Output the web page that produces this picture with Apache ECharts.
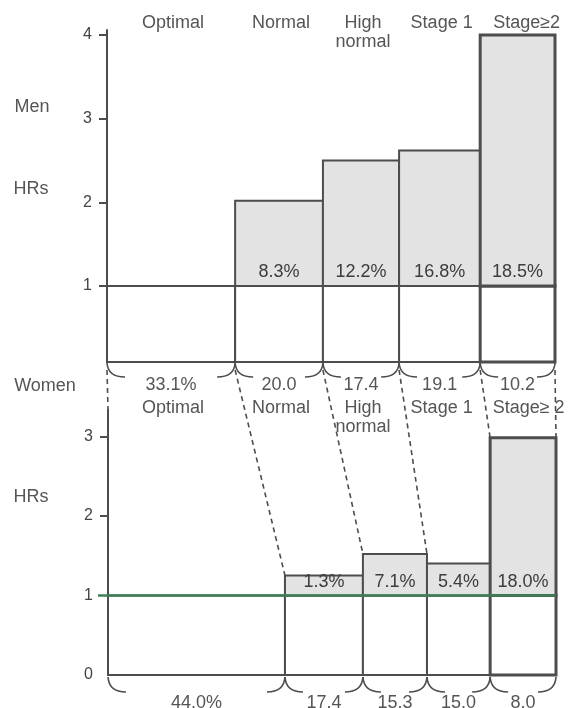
<!DOCTYPE html>
<html><head><meta charset="utf-8">
<script src="https://cdn.jsdelivr.net/npm/echarts@6/dist/echarts.min.js"></script>
<style>html,body{margin:0;padding:0;background:#fff}#c{width:573px;height:708px}</style>
</head><body><div id="c"></div>
<script>
// ---- data ----
const categories = ['Optimal', 'Normal', 'High\nnormal', 'Stage 1', 'Stage\u2265 2'];
const categoriesTop = ['Optimal', 'Normal', 'High\nnormal', 'Stage 1', 'Stage\u22652'];
const menHR = [1, 2.02, 2.5, 2.62, 4.0];
const womenHR = [1, 1.25, 1.52, 1.4, 2.98];
const menIncidence = [null, '8.3%', '12.2%', '16.8%', '18.5%'];
const womenIncidence = [null, '1.3%', '7.1%', '5.4%', '18.0%'];
const menShare = ['33.1%', '20.0', '17.4', '19.1', '10.2'];
const womenShare = ['44.0%', '17.4', '15.3', '15.0', '8.0'];
// category boundaries along the horizontal axis, as drawn (percent of axis width)
const menEdges = [0, 28.6, 48.2, 65.2, 83.3, 100];
const womenEdges = [0, 39.5, 56.9, 71.2, 85.3, 100];
const menTicks = [1, 2, 3, 4];
const womenTicks = [0, 1, 2, 3];

// ---- styling ----
const FONT = "'Liberation Sans', Arial, sans-serif";
const INK = '#4d4d4d';
const TXT = '#555';
const FILL = '#e3e3e3';
const GREEN = '#3f7f57';
const FS = 18;
const TOP_MIN = 0.092, TOP_MAX = 4.06, BOT_MIN = 0, BOT_MAX = 3.33;

const chart = echarts.init(document.getElementById('c'), null, {renderer: 'canvas'});

function txt(x, y, text, opts) {
  opts = opts || {};
  return {type: 'text', x: x, y: y, silent: true,
    style: {text: text, fill: opts.fill || TXT, fontSize: opts.size || FS, fontFamily: FONT,
      align: 'center', verticalAlign: opts.va || 'middle', lineHeight: 19}};
}

function barRender(edges, hrs, base) {
  return function (params, api) {
    const i = params.dataIndex;
    const pb = api.coord([edges[i], base]);
    const p1 = api.coord([edges[i + 1], 1]);
    const ph = api.coord([edges[i], hrs[i]]);
    const lw = i === hrs.length - 1 ? 3 : 2;
    const w = p1[0] - pb[0];
    const ch = [{type: 'rect', shape: {x: pb[0], y: p1[1], width: w, height: pb[1] - p1[1]},
      style: {fill: '#fff', stroke: INK, lineWidth: lw}}];
    if (hrs[i] > 1) ch.push({type: 'rect', shape: {x: pb[0], y: ph[1], width: w, height: p1[1] - ph[1]},
      style: {fill: FILL, stroke: INK, lineWidth: lw}});
    return {type: 'group', children: ch};
  };
}

function braces(api, edges, base, yOff, depth, width) {
  const ch = [];
  for (let i = 0; i < edges.length - 1; i++) {
    const a = api.coord([edges[i], base]);
    const b = api.coord([edges[i + 1], base]);
    const y0 = a[1] + yOff;
    ch.push({type: 'path', shape: {pathData:
      'M' + a[0] + ' ' + y0 + ' Q' + (a[0] + 1) + ' ' + (y0 + depth) + ' ' + (a[0] + width) + ' ' + (y0 + depth) +
      ' M' + b[0] + ' ' + y0 + ' Q' + (b[0] - 1) + ' ' + (y0 + depth) + ' ' + (b[0] - width) + ' ' + (y0 + depth)},
      style: {fill: 'none', stroke: INK, lineWidth: 1.6}});
  }
  return ch;
}

function decorRender(which) {
  return function (params, api) {
    const ch = [];
    if (which === 'men') {
      const l = api.coord([0, 1]), r = api.coord([100, 1]);
      ch.push({type: 'line', shape: {x1: l[0], y1: l[1], x2: r[0], y2: r[1]}, style: {stroke: INK, lineWidth: 2}});
      for (let i = 0; i < menHR.length; i++) {
        const mid = (menEdges[i] + menEdges[i + 1]) / 2;
        const cx = api.coord([mid, 1]);
        if (menIncidence[i]) ch.push(txt(cx[0], cx[1] - 14, menIncidence[i], {fill: '#3c3c3c'}));
        const top = api.coord([mid, TOP_MAX]);
        ch.push(txt(top[0] + (i === 4 ? 9 : 2), top[1] - 16, categoriesTop[i], {va: 'top'}));
        const bot = api.coord([mid, TOP_MIN]);
        ch.push(txt(bot[0], bot[1] + 23, menShare[i]));
        ch.push(txt(bot[0] + (i === 4 ? 11 : 2), bot[1] + 37, categories[i], {va: 'top'}));
      }
      ch.push.apply(ch, braces(api, menEdges, TOP_MIN, 1, 14, 18));
      const o = api.coord([0, TOP_MIN]);
      ch.push(txt(32, 107, 'Men'));
      ch.push(txt(31, 189, 'HRs'));
      ch.push(txt(45, o[1] + 24, 'Women'));
    } else {
      const l = api.coord([0, 1]), r = api.coord([100, 1]);
      ch.push({type: 'line', shape: {x1: l[0] - 10, y1: l[1], x2: r[0], y2: r[1]}, style: {stroke: GREEN, lineWidth: 2.5}});
      for (let i = 0; i < womenHR.length; i++) {
        const mid = (womenEdges[i] + womenEdges[i + 1]) / 2;
        const cx = api.coord([mid, 1]);
        if (womenIncidence[i]) ch.push(txt(cx[0], cx[1] - 13, womenIncidence[i], {fill: '#3c3c3c'}));
        const bot = api.coord([mid, BOT_MIN]);
        ch.push(txt(bot[0], bot[1] + 28, womenShare[i]));
      }
      ch.push.apply(ch, braces(api, womenEdges, BOT_MIN, 2, 15, 18));
      ch.push(txt(31, 497, 'HRs'));
    }
    return {type: 'group', children: ch};
  };
}

const axisCommon = {
  type: 'value', splitLine: {show: false},
  axisLine: {show: true, lineStyle: {color: INK, width: 2}},
  axisTick: {show: true, length: 8, lineStyle: {color: INK, width: 2}},
  axisLabel: {color: '#444', fontSize: 16, fontFamily: FONT, margin: 15}
};

chart.setOption({
  animation: false,
  backgroundColor: '#fff',
  grid: [
    {left: 107, top: 30, width: 448, height: 332},
    {left: 108, top: 410, width: 448, height: 265}
  ],
  xAxis: [
    {type: 'value', gridIndex: 0, min: 0, max: 100, show: false},
    {type: 'value', gridIndex: 1, min: 0, max: 100, show: false}
  ],
  yAxis: [
    Object.assign({}, axisCommon, {gridIndex: 0, min: TOP_MIN, max: TOP_MAX,
      axisTick: Object.assign({}, axisCommon.axisTick, {customValues: menTicks}),
      axisLabel: Object.assign({}, axisCommon.axisLabel, {customValues: menTicks})}),
    Object.assign({}, axisCommon, {gridIndex: 1, min: BOT_MIN, max: BOT_MAX,
      axisTick: Object.assign({}, axisCommon.axisTick, {customValues: [2, 3]}),
      axisLabel: Object.assign({}, axisCommon.axisLabel, {customValues: womenTicks})})
  ],
  series: [
    {type: 'custom', xAxisIndex: 0, yAxisIndex: 0, data: menHR.map((v, i) => [i, v]), renderItem: barRender(menEdges, menHR, TOP_MIN), clip: false, z: 2},
    {type: 'custom', xAxisIndex: 0, yAxisIndex: 0, data: [[0, 0]], renderItem: decorRender('men'), clip: false, z: 3},
    {type: 'custom', xAxisIndex: 1, yAxisIndex: 1, data: womenHR.map((v, i) => [i, v]), renderItem: barRender(womenEdges, womenHR, BOT_MIN), clip: false, z: 2},
    {type: 'custom', xAxisIndex: 1, yAxisIndex: 1, data: [[0, 0]], renderItem: decorRender('women'), clip: false, z: 3}
  ]
});

// dashed connectors from the men's category boundaries to the women's bars
const graphics = [];
for (let i = 0; i < menEdges.length; i++) {
  const a = chart.convertToPixel({gridIndex: 0}, [menEdges[i], TOP_MIN]);
  let target;
  if (i === 0) target = BOT_MAX;
  else if (i === menEdges.length - 1) target = womenHR[womenHR.length - 1];
  else target = Math.max(womenHR[i - 1], womenHR[i]);
  const b = chart.convertToPixel({gridIndex: 1}, [womenEdges[i], target]);
  graphics.push({type: 'line', silent: true, z: 1,
    shape: {x1: a[0], y1: a[1] + 8, x2: b[0], y2: b[1]},
    style: {stroke: INK, lineWidth: 1.6, lineDash: [5, 4]}});
}
chart.setOption({graphic: graphics});
</script></body></html>
